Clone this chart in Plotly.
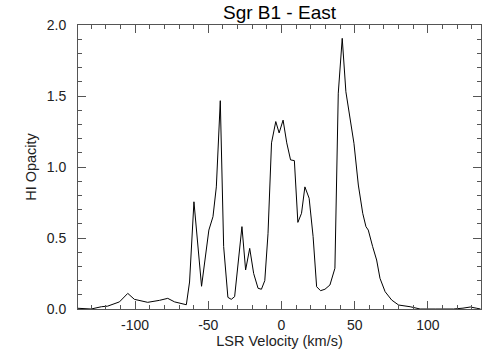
import plotly.graph_objects as go

# LSR velocity (km/s) and HI opacity
velocity = [-139, -130, -123, -118.8, -110.7, -105, -100.5, -91.4, -83.3, -77.7,
            -73, -68, -65, -62.8, -59.8, -54.6, -49.6, -46.8, -44.5, -41.8,
            -39.5, -36.6, -34.3, -32, -29.7, -27, -24.5, -21.7, -19, -16,
            -13.7, -11.4, -9.2, -6.8, -3.9, -1.6, 1.1, 3.6, 6.2, 8.8,
            11.2, 13.7, 16, 18.9, 21.6, 24, 26.7, 29.7, 33.1, 36.5,
            38.8, 41.5, 44, 46.8, 49.5, 52.5, 55.5, 57.7, 59.3, 62.3,
            65, 67.3, 70.8, 75.3, 80, 87.9, 94.7, 105, 117.5, 124,
            129, 133, 136]
opacity = [0.005, 0.0, 0.016, 0.02, 0.05, 0.11, 0.068, 0.047, 0.061, 0.075,
           0.05, 0.035, 0.03, 0.19, 0.755, 0.16, 0.556, 0.65, 0.86, 1.467,
           0.44, 0.082, 0.068, 0.087, 0.3, 0.58, 0.275, 0.427, 0.25, 0.146,
           0.139, 0.2, 0.53, 1.17, 1.32, 1.24, 1.33, 1.17, 1.05, 1.045,
           0.61, 0.674, 0.86, 0.78, 0.51, 0.157, 0.129, 0.139, 0.169, 0.287,
           1.52, 1.906, 1.53, 1.354, 1.167, 0.873, 0.674, 0.58, 0.556, 0.439,
           0.345, 0.216, 0.122, 0.063, 0.028, 0.016, 0.0, 0.0, 0.0, 0.006,
           0.014, 0.006, 0.0]

# tick labels (plain hyphen, like the IDL original)
x_ticks = [-100, -50, 0, 50, 100]
x_labels = ["-100", "-50", "0", "50", "100"]
y_ticks = [0.0, 0.5, 1.0, 1.5, 2.0]
y_labels = ["0.0", "0.5", "1.0", "1.5", "2.0"]

font = "Liberation Sans, Arial, Helvetica, sans-serif"

fig = go.Figure(go.Scatter(x=velocity, y=opacity, mode="lines",
                           line=dict(color="black", width=1)))

axis_style = dict(showline=True, linecolor="#555", linewidth=1, mirror="ticks",
                  ticks="inside", tickcolor="#555", ticklen=8, showgrid=False,
                  zeroline=False, tickfont=dict(family=font, size=14, color="#222"))

fig.update_xaxes(range=[-139, 136.3], tickvals=x_ticks, ticktext=x_labels,
                 minor=dict(dtick=10, tick0=0, ticks="inside", ticklen=4, tickcolor="#555"),
                 title=dict(text="LSR Velocity (km/s)", standoff=0,
                            font=dict(family=font, size=14.5, color="#222")),
                 ticklabelstandoff=3, **axis_style)
fig.update_yaxes(range=[0, 2.0], tickvals=y_ticks, ticktext=y_labels,
                 minor=dict(dtick=0.1, tick0=0, ticks="inside", ticklen=4, tickcolor="#555"),
                 title=dict(text="HI Opacity", standoff=6,
                            font=dict(family=font, size=14.5, color="#222")),
                 ticklabelstandoff=8, **axis_style)

fig.update_layout(
    width=504, height=360,
    margin=dict(l=78, r=23, t=25, b=51, autoexpand=False),
    paper_bgcolor="white", plot_bgcolor="white",
    showlegend=False,
    title=dict(text="Sgr B1 - East", x=0.5, xref="paper", xanchor="center",
               y=0.966, yanchor="middle",
               font=dict(family=font, size=19, color="black")),
)

# drop the default page margin so the figure sits at the window corner
fig.write_html("out.html", config={"displayModeBar": False},
               post_script="document.body.style.margin='0';")
